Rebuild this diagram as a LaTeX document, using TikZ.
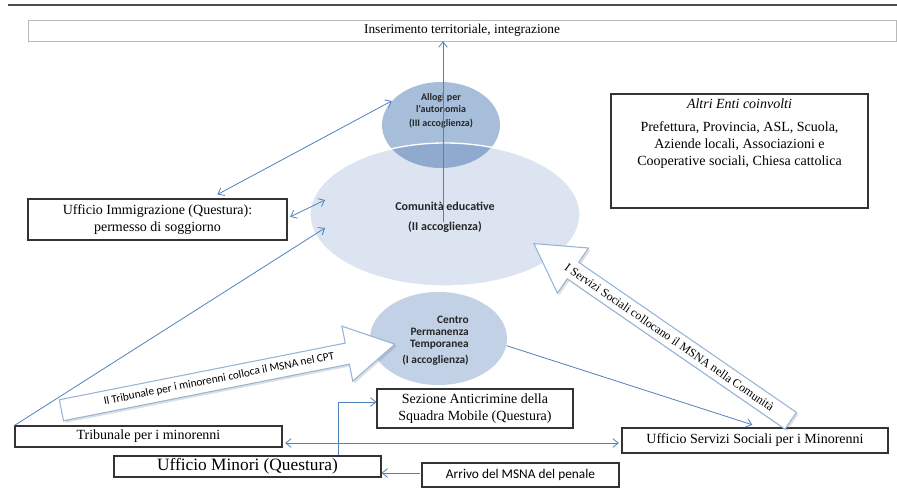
\documentclass[tikz,border=0pt]{standalone}
\usepackage{fontspec}
\setmainfont{Liberation Serif}
\newfontfamily\calibri{Carlito}
\usetikzlibrary{shapes.geometric,shapes.arrows,arrows.meta,shadows,positioning}

\definecolor{linkblue}{RGB}{79,129,189}
\definecolor{fatedge}{RGB}{150,180,215}
\definecolor{bigfill}{RGB}{219,228,240}
\definecolor{smallfill}{RGB}{167,190,219}
\definecolor{overlapfill}{RGB}{143,170,206}
\definecolor{cptfill}{RGB}{194,209,230}

\tikzset{
  box/.style={draw=black!80, line width=0.8pt, fill=white, inner sep=0pt, align=center,
    font=\fontsize{10.5}{13}\selectfont},
  zone/.style={ellipse, inner sep=0pt},
  zonetext/.style={align=center, inner sep=0pt, text=black!85},
  link/.style={draw=linkblue, line width=0.6pt},
  barb/.style={-{Straight Barb[length=4pt,width=6.5pt]}},
  dbarb/.style={{Straight Barb[length=4pt,width=6.5pt]}-{Straight Barb[length=4pt,width=6.5pt]}},
  fatarrow/.style={single arrow, draw=fatedge, line width=0.8pt, fill=white,
    drop shadow={opacity=0.25, shadow xshift=1.5pt, shadow yshift=-1.5pt},
    single arrow head extend=13pt, single arrow tip angle=60,
    inner xsep=4pt, inner ysep=4pt}
}

\begin{document}
\begin{tikzpicture}[x=0.75pt, y=-0.75pt]
\useasboundingbox (0,0) rectangle (897,492);

% top rule
\draw[black!70, line width=0.8pt] (8,5) -- (897,5);

\node[box, draw=gray!55, line width=0.5pt, minimum width=651pt, minimum height=15.75pt,
  font=\fontsize{10}{12}\selectfont] (inser) at (462,30.5) {Inserimento territoriale, integrazione};

% accoglienza
\node[zone, fill=smallfill, minimum width=88.5pt, minimum height=64.5pt] (allogi) at (441,125) {};
\node[zone, fill=bigfill, minimum width=202.5pt, minimum height=107.25pt] (comunita) at (445,214.5) {};
\begin{scope}
  \clip (441,125) ellipse [x radius=59, y radius=43];
  \fill[overlapfill] (445,214.5) ellipse [x radius=135, y radius=71.5];
\end{scope}
\draw[white, line width=1pt] (445,214.5) ellipse [x radius=135, y radius=71.5];
\node[zone, fill=cptfill, minimum width=102.75pt, minimum height=69.75pt] (centro) at (438.5,338.5) {};

\node[zonetext, font=\calibri\bfseries\fontsize{7.5}{8.5}\selectfont] (allogitxt) at (441,111)
  {Allogi per\\l'autonomia\\[2pt](III accoglienza)};
\node[zonetext, font=\calibri\bfseries\fontsize{9}{11}\selectfont] (comunitatxt) at (445,217)
  {Comunità educative\\[4pt](II accoglienza)};
\node[zonetext, align=right, font=\calibri\bfseries\fontsize{8.5}{9}\selectfont] (centrotxt) at (435.5,341)
  {Centro\\Permanenza\\Temporanea\\[3pt](I accoglienza)};

% uffici
\node[box, minimum width=194.25pt, minimum height=30.75pt] (immig) at (157.5,219.5)
  {Ufficio Immigrazione (Questura):\\permesso di soggiorno};
\node[box, minimum width=192.75pt, minimum height=85.5pt] (altri) at (739.5,151) {};
\node[align=center, inner sep=0pt, below=4pt of altri.north, font=\fontsize{10.5}{12.75}\selectfont] (altritxt)
  {\textit{Altri Enti coinvolti}\\[4pt]Prefettura, Provincia, ASL, Scuola,\\Aziende locali, Associazioni e\\Cooperative sociali, Chiesa cattolica};
\node[box, minimum width=200.25pt, minimum height=15.75pt] (trib) at (148.5,436.5) {Tribunale per i minorenni};
\node[box, minimum width=200.25pt, minimum height=15.75pt, font=\fontsize{13}{14}\selectfont] (minori) at (247.5,466.5)
  {Ufficio Minori (Questura)};
\node[box, minimum width=147pt, minimum height=29.25pt] (sezione) at (475,408.5)
  {Sezione Anticrimine della\\Squadra Mobile (Questura)};
\node[box, minimum width=147.75pt, minimum height=18pt, font=\calibri\fontsize{10}{12}\selectfont] (arrivo) at (520.5,475)
  {Arrivo del MSNA del penale};
\node[box, minimum width=199.5pt, minimum height=18.75pt] (servizi) at (755,440.5)
  {Ufficio Servizi Sociali per i Minorenni};

% punti di arrivo
\coordinate (risalita) at (443,222);
\coordinate (comovest) at (325,200);
\coordinate (comsud) at (325,228);
\coordinate (asse) at (450,443);
\coordinate (gomito) at (338,402);
\coordinate (ingresso) at (400,473);

\draw[link, barb] (risalita) -- (risalita |- inser.south);
\draw[link, dbarb] ([xshift=45pt,yshift=3pt]immig.north) -- (allogi.154);
\draw[link, dbarb] ([xshift=2pt,yshift=2pt]immig.east) -- (comovest);
\draw[link, barb] (trib.north west) -- (comsud);
\draw[link, barb] (centro.-6) -- ([xshift=-2pt,yshift=2pt]servizi.north);
\draw[link, dbarb, shorten <=2pt, shorten >=2pt] (trib.east |- asse) -- (servizi.west |- asse);
\draw[link, barb] (minori.north -| gomito) |- (sezione.west |- gomito);
\draw[link, barb, shorten <=1pt] (arrivo.west |- ingresso) -- (minori.east |- ingresso);

% frecce grandi
\node[fatarrow, rotate=11.2, anchor=tip, minimum height=255pt,
  font=\calibri\fontsize{8.5}{10}\selectfont] (fattrib) at (396,344)
  {Il Tribunale per i minorenni colloca il MSNA nel CPT};
\node[fatarrow, shape border rotate=180, rotate=-34.6, anchor=tip, minimum height=234pt,
  font=\fontsize{9}{10}\selectfont] (fatservizi) at (533,243)
  {I Servizi Sociali collocano il MSNA nella Comunità};

\end{tikzpicture}
\end{document}
